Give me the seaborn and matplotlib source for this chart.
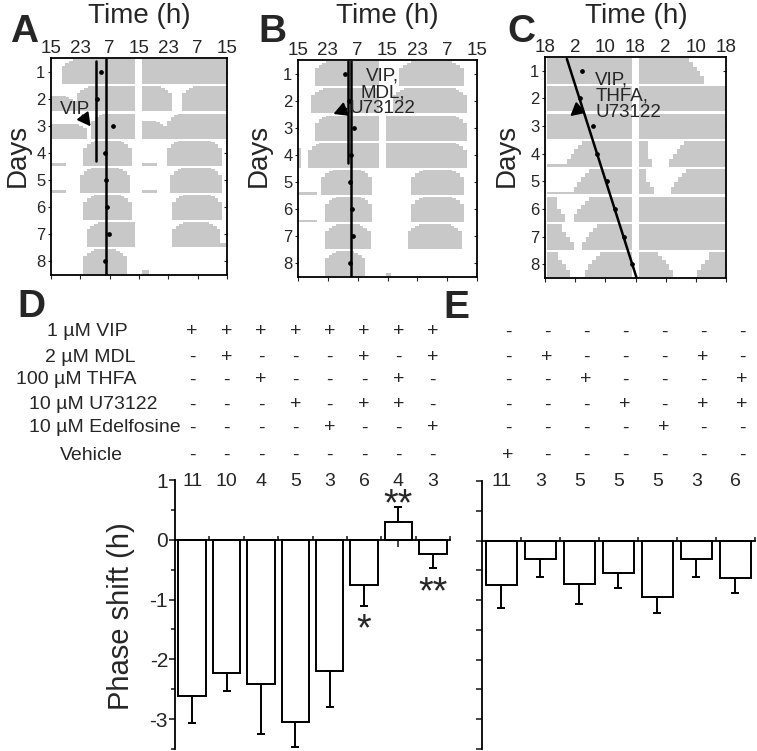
import numpy as np
import pandas as pd
import matplotlib
matplotlib.use("Agg")
import matplotlib.pyplot as plt
import matplotlib.lines as mlines
import seaborn as sns
from matplotlib.transforms import blended_transform_factory

sns.set_style("ticks")
plt.rcParams['font.family'] = ['Liberation Sans', 'DejaVu Sans']
plt.rcParams['axes.linewidth'] = 1.3
plt.rcParams['axes.edgecolor'] = 'black'

# --- actograms: activity bouts per day (onset h, offset h [, level]), 48 h double plot
a_bouts = [
    [(2.9, 23.0), (24.8, 48.0)],
    [(0.0, 7.0, 0.6), (7.0, 23.0), (24.8, 33.0), (35.7, 48.0)],
    [(0.0, 9.7, 0.6), (11.0, 23.0), (24.8, 31.6, 0.7), (31.6, 48.0)],
    [(0.0, 4.0, 0.1), (8.8, 22.0), (24.8, 29.0, 0.1), (31.6, 46.6)],
    [(0.0, 4.0, 0.1), (7.9, 21.6), (24.8, 29.0, 0.1), (32.5, 46.6)],
    [(8.8, 22.0), (33.0, 46.6)],
    [(9.7, 23.0), (33.0, 46.2), (46.2, 48.0, 0.15)],
    [(8.8, 20.7), (24.8, 26.7, 0.15)],
]
b_bouts = [
    [(4.5, 21.7), (27.2, 44.4)],
    [(3.6, 21.7), (25.4, 45.3)],
    [(4.5, 21.7), (23.6, 45.3)],
    [(0.0, 0.9, 0.8), (2.7, 21.7), (23.6, 45.3)],
    [(0.0, 5.0, 0.1), (6.3, 19.9), (30.4, 44.4)],
    [(0.0, 5.0, 0.08), (7.2, 19.9), (30.4, 44.4)],
    [(7.2, 19.5), (29.4, 43.9)],
    [(7.2, 18.1), (23.6, 25.0, 0.12)],
]
c_bouts = [
    [(0.4, 23.1), (24.9, 42.2)],
    [(0.4, 23.1), (24.9, 48.0)],
    [(0.4, 23.1), (24.9, 48.0)],
    [(0.4, 5.8, 0.1), (5.8, 23.1), (24.9, 28.4), (32.9, 48.0)],
    [(0.4, 7.6, 0.1), (7.6, 23.1), (24.9, 28.9), (33.3, 48.0)],
    [(0.4, 5.3), (7.6, 23.1), (24.9, 48.0)],
    [(0.4, 7.6), (9.8, 23.1), (24.9, 48.0)],
    [(0.4, 6.5), (10.5, 23.1), (24.9, 34.0), (40.4, 48.0)],
]
a_ticks = ['15', '23', '7', '15', '23', '7', '15']
c_ticks = ['18', '2', '10', '18', '2', '10', '18']

# fitted onset lines (h0, day0, h1, day1) and daily onset markers
a_fit = [(12.2, 0.62, 12.2, 4.3), (14.9, 0.55, 14.9, 8.45)]
b_fit = [(13.3, 0.55, 13.3, 4.3), (14.2, 0.55, 14.2, 8.45)]
c_fit = [(5.8, 0.57, 24.3, 8.5)]
a_onset = [13.6, 12.5, 17.0, 14.8, 15.0, 15.3, 15.7, 14.8]
b_onset = [12.7, 13.6, 15.0, 14.3, 14.0, 14.5, 14.8, 13.9]
c_onset = [9.8, 9.2, 12.7, 13.7, 16.4, 18.6, 21.0, 23.1]

# --- phase shift bars
d_mean = [-2.62, -2.23, -2.41, -3.04, -2.19, -0.75, 0.29, -0.24]
d_err = [0.44, 0.30, 0.84, 0.42, 0.60, 0.35, 0.25, 0.24]
d_n = [11, 10, 4, 5, 3, 6, 4, 3]
d_sig = ['', '', '', '', '', '*', '**', '**']
e_mean = [-0.75, -0.31, -0.73, -0.55, -0.94, -0.31, -0.63]
e_err = [0.38, 0.30, 0.34, 0.25, 0.27, 0.30, 0.25]
e_n = [11, 3, 5, 5, 5, 3, 6]

treatments = ['1 µM VIP', '2 µM MDL', '100 µM THFA', '10 µM U73122',
              '10 µM Edelfosine', 'Vehicle']
d_table = ['++++++++', '-+---+-+', '--+---+-', '---+-++-', '----+--+', '--------']
e_table = ['-------', '-+---+-', '--+---+', '---+-++', '----+--', '+------']

GRAY = '#c8c8c8'
W, H = 757, 751


def px_box(l, t, r, b):
    return [l / W, 1 - b / H, (r - l) / W, (b - t) / H]


def fy(y):
    return 1 - y / H


def draw_actogram(ax, bouts, gap, steps, ticklabels, fits, onsets):
    for day, row in enumerate(bouts, start=1):
        base = day + 0.47
        for b in row:
            start, end = b[0], b[1]
            level = b[2] if len(b) > 2 else 1.0
            soft_l = level > 0.3 and start > 0.5 and abs(start - gap[1]) > 0.3
            soft_r = level > 0.3 and end < 47.5 and abs(end - gap[0]) > 0.3
            n = int(min(len(steps), (end - start) / 2))
            xs, hs = [], []
            if soft_l:
                for i in range(n):
                    xs.append(start + i)
                    hs.append(steps[i])
            xs.append(start + (n if soft_l else 0))
            hs.append(1.0)
            if soft_r:
                for i in range(n):
                    xs.append(end - n + i)
                    hs.append(steps[n - 1 - i])
            xs.append(end)
            hs.append(hs[-1])
            top = base - 0.92 * level * np.array(hs)
            ax.fill_between(xs, base, top, step='post', color=GRAY, lw=0)
    for h0, d0, h1, d1 in fits:
        ax.plot([h0, h1], [d0, d1], color='black', lw=1.8)
    ax.plot(onsets, range(1, 9), 'o', color='black', ms=2.4)
    ax.set_xlim(0, 48)
    ax.set_ylim(8.5, 0.5)
    ax.set_xticks(range(0, 49, 8))
    ax.set_xticklabels(ticklabels)
    ax.set_yticks(range(1, 9))
    ax.tick_params(axis='x', top=False, bottom=True, labeltop=True, labelbottom=False,
                   direction='out', length=3, pad=-2.3, labelsize=13.5)
    ax.tick_params(axis='y', left=True, right=True, direction='out', length=2.5,
                   pad=1.5, labelsize=12)
    for t in ax.yaxis.get_major_ticks():
        t.tick2line.set_marker(mlines.TICKLEFT)
    for s in ax.spines.values():
        s.set_linewidth(1.3)


fig = plt.figure(figsize=(7.57, 7.51), dpi=100)

ax_a = fig.add_axes(px_box(51, 58, 227, 275))
ax_b = fig.add_axes(px_box(298, 60, 477, 277))
ax_c = fig.add_axes(px_box(545, 57, 726, 278))

soft_ab = [0.72, 0.86, 0.94]
soft_c = [0.3, 0.5, 0.68, 0.84]
draw_actogram(ax_a, a_bouts, (23.0, 24.8), soft_ab, a_ticks, a_fit, a_onset)
draw_actogram(ax_b, b_bouts, (21.7, 23.6), soft_ab, a_ticks, b_fit, b_onset)
draw_actogram(ax_c, c_bouts, (23.1, 24.9), soft_c, c_ticks, c_fit, c_onset)

arrow = dict(arrowstyle='-|>,head_length=0.55,head_width=0.3', color='black',
             lw=1.5, mutation_scale=14, shrinkA=0, shrinkB=0)
ax_a.text(6.5, 2.41, 'VIP', ha='center', va='center', fontsize=13.5)
ax_a.annotate('', xy=(10.8, 3.02), xytext=(8.6, 2.62), arrowprops=arrow)
ax_b.text(22.6, 1.70, 'VIP,\nMDL,\nU73122', ha='center', va='center',
          fontsize=13.5, linespacing=0.95)
ax_b.annotate('', xy=(9.5, 2.49), xytext=(13.0, 2.3), arrowprops=arrow)
ax_c.text(13.3, 1.91, 'VIP,\nTHFA,\nU73122', ha='left', va='center',
          fontsize=13.5, linespacing=0.95)
ax_c.annotate('', xy=(6.7, 2.64), xytext=(9.4, 2.33), arrowprops=arrow)

for cx in [139, 387, 636]:
    fig.text(cx / W, fy(23), 'Time (h)', ha='center', va='baseline', fontsize=20)

for rx in [31, 272, 520]:
    fig.text(rx / W, fy(155), 'Days', rotation=90, ha='right', va='center',
             fontsize=20)

for letter, lx, by in [('A', 10, 42), ('B', 258, 42), ('C', 507, 42),
                       ('D', 17, 317), ('E', 443, 318)]:
    fig.text(lx / W, fy(by), letter, fontsize=28, fontweight='bold', va='baseline')


# --- bar panels
def draw_bars(ax, means, errs, ns):
    df = pd.DataFrame({'cond': [str(i) for i in range(len(means))], 'shift': means})
    sns.barplot(data=df, x='cond', y='shift', ax=ax, color='white', saturation=1,
                edgecolor='black', linewidth=1.4, width=0.8, errorbar=None)
    m = np.array(means)
    e = np.array(errs)
    lower = np.where(m < 0, e, 0)
    upper = np.where(m > 0, e, 0)
    ax.errorbar(np.arange(len(m)), m, yerr=[lower, upper], fmt='none',
                ecolor='black', elinewidth=1.4, capsize=3, capthick=1.4)
    n = len(means)
    ax.set_xlim(-0.5, n - 0.5)
    ax.set_ylim(-3.5, 1)
    ax.set_xlabel('')
    ax.set_ylabel('')
    ax.spines['bottom'].set_position(('data', 0))
    ax.spines['top'].set_visible(False)
    ax.spines['right'].set_visible(False)
    ax.set_xticks(range(n))
    ax.set_xticklabels([])
    ax.set_xticks(np.arange(n) + 0.5, minor=True)
    ax.tick_params(axis='x', which='major', direction='out', length=5, width=1.2)
    ax.tick_params(axis='x', which='minor', direction='in', length=3, width=1.2)
    trans = blended_transform_factory(ax.transData, fig.transFigure)
    for i, k in enumerate(ns):
        ax.text(i, fy(481), str(k), transform=trans, ha='center', va='center',
                fontsize=14)
    return trans


ax_d = fig.add_axes(px_box(175, 480, 450, 749))
ax_e = fig.add_axes(px_box(482, 481, 755, 749))
trans_d = draw_bars(ax_d, d_mean, d_err, d_n)
trans_e = draw_bars(ax_e, e_mean, e_err, e_n)

ax_d.set_yticks([1, 0, -1, -2, -3])
ax_d.set_yticklabels(['1', '0', '-1', '-2', '-3'])
ax_d.set_yticks(np.arange(-3.5, 1, 1), minor=True)
ax_d.tick_params(axis='y', which='major', direction='out', length=4, width=1.2,
                 pad=1, labelsize=15)
ax_d.tick_params(axis='y', which='minor', direction='out', length=3, width=1.2)
ax_e.set_yticks(np.arange(-3.5, 1.01, 0.5))
ax_e.set_yticklabels([])
ax_e.tick_params(axis='y', direction='out', length=4, width=1.2)

for i, s in enumerate(d_sig):
    if not s:
        continue
    if d_mean[i] < 0:
        y = d_mean[i] - d_err[i] - 0.42
    else:
        y = d_mean[i] + d_err[i] + 0.04
    ax_d.text(i, y, s, ha='center', va='center', fontsize=27)

fig.text(135 / W, fy(616), 'Phase shift (h)', rotation=90, ha='right', va='center',
         fontsize=21)

# treatment table
label_x = [87, 90, 76, 93, 105, 91]
row_y = [332, 357, 380, 405, 428, 455]
for r, name in enumerate(treatments):
    fig.text(label_x[r] / W, fy(row_y[r]), name, ha='center', va='center', fontsize=14)
    for i, ch in enumerate(d_table[r]):
        ax_d.text(i, fy(row_y[r]), ch, transform=trans_d, ha='center', va='center',
                  fontsize=14)
    for i, ch in enumerate(e_table[r]):
        ax_e.text(i + 0.17, fy(row_y[r]), ch, transform=trans_e, ha='center',
                  va='center', fontsize=14)

fig.savefig('out.png', dpi=100)
